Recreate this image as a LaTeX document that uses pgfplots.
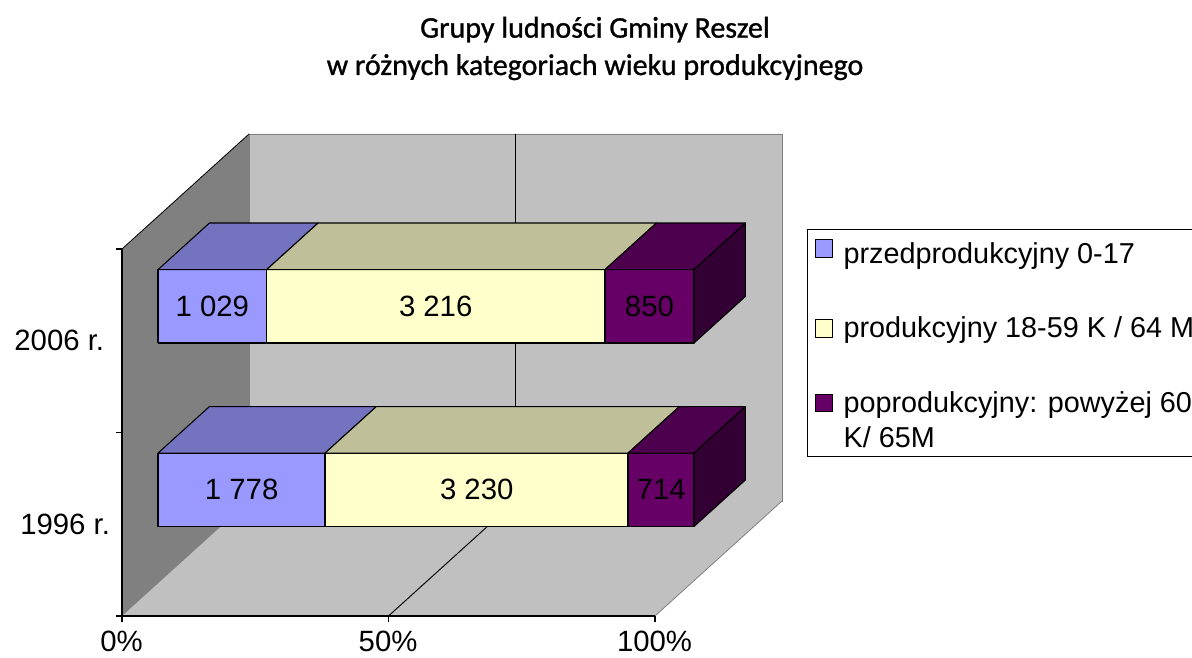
\documentclass[border=0pt]{standalone}
\usepackage{fontspec}
\setmainfont{Liberation Sans}
\newfontfamily\titlefont[FakeBold=1.0]{Carlito}
\usepackage{pgfplots}
\pgfplotsset{compat=1.18}
\definecolor{cBlue}{HTML}{9999FF}\definecolor{cBlueT}{HTML}{7373BF}
\definecolor{cYel}{HTML}{FFFFCC}\definecolor{cYelT}{HTML}{BFBF99}
\definecolor{cPur}{HTML}{660066}\definecolor{cPurT}{HTML}{4D004D}\definecolor{cPurS}{HTML}{330033}
\definecolor{cWall}{HTML}{C0C0C0}\definecolor{cSide}{HTML}{808080}
% one stacked segment: #1 options of the front face, #2 top colour, x0, x1, z0, z1
\newcommand{\seg}[6]{%
  \addplot3[face,#1] coordinates {(#3,28.35,#5)(#4,28.35,#5)(#4,28.35,#6)(#3,28.35,#6)(#3,28.35,#5)};
  \addplot3[face,forget plot,fill=#2] coordinates {(#3,28.35,#6)(#4,28.35,#6)(#4,68.85,#6)(#3,68.85,#6)(#3,28.35,#6)};
}
\begin{document}
\begin{tikzpicture}
\path[use as bounding box] (0,0) rectangle (894pt,492.75pt);
\begin{axis}[
  at={(91.5pt,30.75pt)},anchor=origin,
  x={(3.9975pt,0pt)},y={(0.9525pt,0.8625pt)},z={(0pt,137.625pt)},
  xmin=0,xmax=100,ymin=0,ymax=100,zmin=0,zmax=2,
  clip=false,axis on top,
  axis lines=left,axis line style={-,black,line width=0.8pt},
  y axis line style={draw=none},
  xtick={0,50,100},xticklabels={0\%,50\%,100\%},
  ytick=\empty,ztick={0,1,2},zticklabels={,,},
  tick align=outside,major tick length=3.5pt,
  tick style={draw=none},
  every tick label/.append style={font=\fontsize{22}{26}\selectfont},
  xticklabel style={inner sep=0pt,xshift=5.8pt,yshift=-9pt},
  legend style={at={(rel axis cs:1.285,0,1.0545)},anchor=north west,
    draw=black,line width=0.8pt,font=\fontsize{21.6}{26.5}\selectfont,
    cells={anchor=north west,align=left},row sep=34.5pt,column sep=6pt,
    inner xsep=5.5pt,inner ysep=3.25pt},
  legend image code/.code={\draw[#1,line width=0.6pt] (0pt,-17.5pt) rectangle (13pt,-4.5pt);},
  face/.style={draw=black,line width=0.8pt,line join=round},
  wall/.style={forget plot,draw=none},
]
% walls and floor
\addplot3[wall,fill=cWall,draw=cSide,line width=0.6pt] coordinates {(0,100,0)(100,100,0)(100,100,2)(0,100,2)(0,100,0)};
\addplot3[wall,fill=cWall] coordinates {(0,0,0)(100,0,0)(100,100,0)(0,100,0)(0,0,0)};
\addplot3[wall,fill=cSide] coordinates {(0,0,0)(0,100,0)(0,100,2)(0,0,2)(0,0,0)};
\addplot3[forget plot,draw=cSide,line width=0.6pt] coordinates {(100,0,0)(100,100,0)};
\addplot3[forget plot,draw=black,line width=0.6pt] coordinates {(0,0,2)(0,100,2)};
% tick marks on the front plane
\addplot3[forget plot,draw=black,line width=0.8pt] coordinates {(0,0,0)(0,0,-0.03)};
\addplot3[forget plot,draw=black,line width=0.8pt] coordinates {(50,0,0)(50,0,-0.03)};
\addplot3[forget plot,draw=black,line width=0.8pt] coordinates {(100,0,0)(100,0,-0.03)};
\addplot3[forget plot,draw=black,line width=0.8pt] coordinates {(0,0,0)(-1.1,0,0)};
\addplot3[forget plot,draw=black,line width=0.8pt] coordinates {(0,0,1)(-1.1,0,1)};
\addplot3[forget plot,draw=black,line width=0.8pt] coordinates {(0,0,2)(-1.1,0,2)};
% gridline at 50%
\addplot3[forget plot,draw=black,line width=0.7pt] coordinates {(50,0,0)(50,100,0)(50,100,2)};
% 2006
\seg{forget plot,fill=cBlue}{cBlueT}{0}{20.39}{1.31}{1.71}
\seg{forget plot,fill=cYel}{cYelT}{20.39}{83.86}{1.31}{1.71}
\seg{forget plot,fill=cPur}{cPurT}{83.86}{100.56}{1.31}{1.71}
\addplot3[face,forget plot,fill=cPurS] coordinates {(100.56,28.35,1.31)(100.56,68.85,1.31)(100.56,68.85,1.71)(100.56,28.35,1.71)(100.56,28.35,1.31)};
% 1996
\seg{fill=cBlue}{cBlueT}{0}{31.33}{0.31}{0.71}
\seg{fill=cYel}{cYelT}{31.33}{88.18}{0.31}{0.71}
\seg{fill=cPur}{cPurT}{88.18}{100.56}{0.31}{0.71}
\addplot3[face,forget plot,fill=cPurS] coordinates {(100.56,28.35,0.31)(100.56,68.85,0.31)(100.56,68.85,0.71)(100.56,28.35,0.71)(100.56,28.35,0.31)};
\legend{{\rule{0pt}{19.5pt}przedprodukcyjny 0-17},produkcyjny 18-59 K / 64 M,{poprodukcyjny: powyżej 60\\K/ 65M}}
\begin{scope}[every node/.style={font=\fontsize{22}{26}\selectfont,inner sep=0pt}]
\node at (axis cs:10.2,28.35,1.51) {1 029};
\node at (axis cs:52.1,28.35,1.51) {3 216};
\node at (axis cs:92.2,28.35,1.51) {850};
\node at (axis cs:15.7,28.35,0.51) {1 778};
\node at (axis cs:59.8,28.35,0.51) {3 230};
\node at (axis cs:94.4,28.35,0.51) {714};
\node[anchor=east] at (axis cs:-3.3,0,1.5) {2006 r.};
\node[anchor=east] at (axis cs:-2.2,0,0.5) {1996 r.};
\end{scope}
\end{axis}
\node[font=\titlefont\fontsize{22.5}{28}\selectfont,align=center,anchor=base] at (446.25pt,436.5pt) {Grupy ludności Gminy Reszel\\w różnych kategoriach wieku produkcyjnego};
\end{tikzpicture}
\end{document}
